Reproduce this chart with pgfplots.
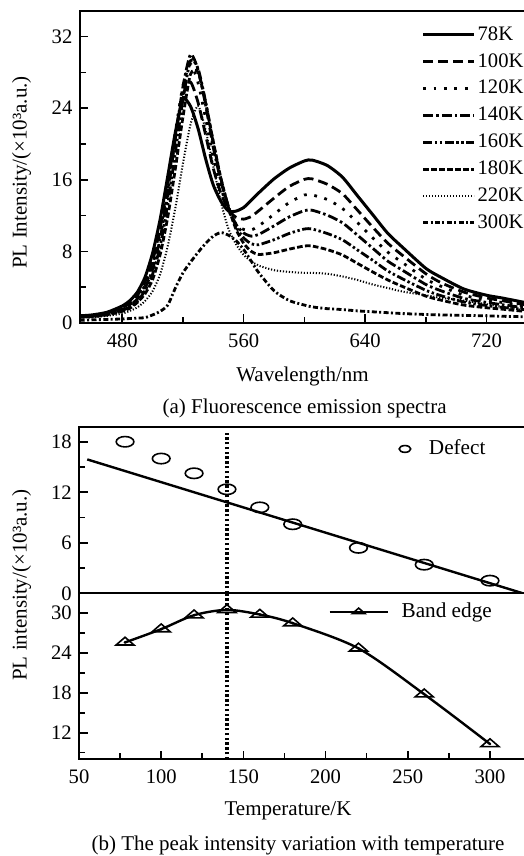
\documentclass[border=0pt]{standalone}
\usepackage{pgfplots}
\pgfplotsset{compat=1.18}
\usepackage{fontspec}
\setmainfont{Liberation Serif}

\pgfplotstableread{
lam  k78  k100  k120  k140  k160  k180  k220  k300
452  0.8  0.75  0.7   0.7   0.7   0.65  0.6   0.3
460  0.9  0.85  0.8   0.75  0.75  0.7   0.65  0.35
470  1.2  1.1   1.05  1.0   0.95  0.9   0.8   0.4
480  1.9  1.7   1.55  1.5   1.4   1.3   1.05  0.45
485  2.5  2.25  2.05  1.95  1.8   1.65  1.35  0.5
490  3.45 3.1   2.9   2.7   2.45  2.3   1.75  0.55
495  5.1  4.55  4.2   3.9   3.6   3.25  2.45  0.6
500  7.8  6.9   6.5   5.95  5.45  4.85  3.55  0.9
505  11.6 10.6  10.2  9.45  8.6   7.65  5.45  1.3
510  16.4 15.5  15.25 14.4  13.25 11.85 8.6   2.0
515  21.3 21.0  21.25 20.6  19.05 17.25 12.85 3.9
520  25.0 25.5  26.5  26.4  24.95 23.0  17.8  5.6
525  24.2 26.9  28.9  30.0  29.3  27.8  22.2  6.8
530  21.7 24.6  26.8  28.25 28.4  28.0  24.25 7.9
535  18.3 20.95 22.8  24.3  24.65 24.55 21.5  8.9
540  15.4 17.25 18.5  19.6  20.1  20.25 17.5  9.7
545  13.6 14.5  15.1  15.85 16.15 16.15 13.5  10.1
550  12.5 12.65 12.6  12.9  13.0  12.9  10.5  9.8
555  12.5 11.8  11.05 11.0  10.75 10.45 8.8   9.2
560  12.9 11.6  10.45 10.05 9.5   8.9   7.6   8.2
565  13.7 11.9  10.4  9.7   8.85  8.0   6.9   6.9
570  14.55 12.55 10.85 9.9  8.75  7.65  6.4   5.6
580  16.1 13.95 12.15 10.85 9.3   7.85  5.9   3.6
590  17.3 15.25 13.45 11.85 10.0  8.25  5.7   2.5
600  18.1 16.05 14.3  12.55 10.5  8.6   5.6   2.0
605  18.2 16.1  14.3  12.6  10.5  8.6   5.6   1.8
615  17.6 15.5  13.8  12.05 10.0  8.2   5.5   1.6
625  16.3 14.45 12.8  11.2  9.3   7.6   5.2   1.5
635  14.2 12.6  11.2  9.8   8.15  6.65  4.8   1.35
645  12.1 10.7  9.5   8.35  7.0   5.7   4.3   1.25
655  10.0 8.9   7.9   6.9   5.8   4.8   3.9   1.15
665  8.4  7.5   6.7   5.85  4.9   4.05  3.5   1.05
680  6.1  5.5   4.9   4.3   3.65  3.0   3.1   0.95
690  5.1  4.5   4.1   3.6   3.05  2.55  2.8   0.9
705  3.8  3.45  3.1   2.75  2.35  2.0   2.5   0.85
720  3.1  2.8   2.55  2.3   1.95  1.7   2.1   0.8
730  2.8  2.5   2.3   2.05  1.75  1.55  1.8   0.75
745  2.3  2.05  1.9   1.7   1.5   1.3   1.45  0.7
}\spectra

\pgfplotstableread{
T    defect
78   18.0
100  16.0
120  14.25
140  12.35
160  10.2
180  8.2
220  5.4
260  3.4
300  1.5
}\defecttab

\pgfplotstableread{
T    band
78   25.6
100  27.6
120  29.7
140  30.5
160  29.8
180  28.5
220  24.7
260  17.8
300  10.3
}\bandtab

\begin{document}
\fontsize{10.5pt}{12.6pt}\selectfont
\begin{tikzpicture}
\useasboundingbox (0pt,0pt) rectangle (262pt,428pt);
\pgfplotsset{
  every axis/.append style={
    scale only axis,
    /pgf/number format/assume math mode=true,
    tick align=inside,
    axis line style={line width=1pt},
    major tick length=4.3pt,
    minor tick length=3pt,
    tick style={black, line width=0.8pt},
    tick label style={font=\fontsize{10.3pt}{12pt}\selectfont},
    xtick pos=bottom, ytick pos=left,
  },
}
% ---------------- top panel ----------------
\begin{axis}[
  at={(39.85pt,266.5pt)}, anchor=south west,
  width=224.7pt, height=156pt,
  xmin=452, xmax=748, ymin=0, ymax=34.85,
  xtick={480,560,640,720}, minor xtick={520,600,680},
  ytick={0,8,16,24,32}, minor ytick={4,12,20,28},
  xticklabel style={yshift=-1.5pt},
  legend style={draw=none, fill=none, at={(rel axis cs:0.76,0.958)}, anchor=north west,
    inner sep=0pt, row sep=3.0pt, font=\fontsize{10.3pt}{12pt}\selectfont,
    nodes={inner sep=1pt}},
  legend cell align=left,
  legend image code/.code={\draw[#1] (0pt,0pt) -- (25.5pt,0pt);},
  every axis plot/.append style={line width=1.4pt, smooth, tension=0.4},
]
\addplot[black, line width=1.5pt] table[x=lam,y=k78] {\spectra};
\addplot[black, dash pattern=on 5pt off 2.5pt] table[x=lam,y=k100] {\spectra};
\addplot[black, dash pattern=on 1.4pt off 3.8pt] table[x=lam,y=k120] {\spectra};
\addplot[black, dash pattern=on 5pt off 1.5pt on 1.3pt off 1.5pt] table[x=lam,y=k140] {\spectra};
\addplot[black, dash pattern=on 4.5pt off 1.3pt on 1.2pt off 1.3pt on 1.2pt off 1.3pt] table[x=lam,y=k160] {\spectra};
\addplot[black, dash pattern=on 2.8pt off 1.2pt] table[x=lam,y=k180] {\spectra};
\addplot[black, line width=1.0pt, dash pattern=on 0.6pt off 0.9pt] table[x=lam,y=k220] {\spectra};
\addplot[black, dash pattern=on 2.5pt off 1.2pt on 1pt off 1.2pt] table[x=lam,y=k300] {\spectra};
\legend{78K,100K,120K,140K,160K,180K,220K,300K}
\end{axis}
% ---------------- defect panel ----------------
\begin{axis}[
  at={(39.5pt,131.35pt)}, anchor=south west,
  width=224.4pt, height=83.15pt,
  xmin=50, xmax=323, ymin=0, ymax=19.75,
  xtick=\empty,
  ytick={0,6,12,18}, minor ytick={3,9,15},
  legend style={draw=none, fill=none, at={(rel axis cs:0.712,0.868)}, anchor=west,
    inner sep=0pt, font=\fontsize{10.6pt}{12pt}\selectfont, nodes={inner sep=1pt}},
  legend image code/.code={\path[draw=none] (-3pt,0pt) -- (11pt,0pt); \draw[#1, mark size=1.7pt] plot coordinates {(0pt,0pt)};},
]
\addplot[black, only marks, mark=o, mark size=2.6pt, mark options={xscale=1.7, line width=0.8pt}] table[x=T,y=defect] {\defecttab};
\addlegendentry{Defect}
\addplot[black, line width=1.2pt, forget plot] coordinates {(55,15.9) (320,0)};
\addplot[black, line width=1.9pt, dash pattern=on 1.2pt off 1.2pt, forget plot] coordinates {(140,0) (140,19.0)};
\end{axis}
% ---------------- band edge panel ----------------
\begin{axis}[
  at={(39.5pt,48.35pt)}, anchor=south west,
  width=224.4pt, height=83pt,
  xmin=50, xmax=323, ymin=8, ymax=33,
  xtick={50,100,150,200,250,300}, minor xtick={75,125,175,225,275},
  ytick={12,18,24,30}, minor ytick={9,15,21,27},
  xticklabel style={yshift=-1.5pt},
  legend style={draw=none, fill=none, at={(rel axis cs:0.555,0.889)}, anchor=west,
    inner sep=0pt, font=\fontsize{10.6pt}{12pt}\selectfont, nodes={inner sep=1pt}},
  legend image code/.code={\path[draw=none] (0pt,0pt) -- (35pt,0pt); \draw[mark repeat=2,mark phase=2,#1, mark size=3.6pt] plot coordinates {(0pt,0pt) (14.5pt,0pt) (29pt,0pt)};},
]
\addplot[black, line width=1.2pt, smooth, mark=triangle, mark size=5.2pt, mark options={yscale=0.5, line width=0.8pt, solid, fill=white}] table[x=T,y=band] {\bandtab};
\addlegendentry{Band edge}
\addplot[black, only marks, mark=*, mark size=0.45pt, forget plot] table[x=T,y=band] {\bandtab};
\addplot[black, line width=1.9pt, dash pattern=on 1.2pt off 1.2pt, forget plot] coordinates {(140,8) (140,33)};
\end{axis}
% ---------------- labels ----------------
\node[rotate=90] at (10.85pt,341.75pt) {PL Intensity/(×10³a.u.)};
\node at (151.25pt,240pt) {Wavelength/nm};
\node at (152.3pt,224pt) {(a) Fluorescence emission spectra};
\node[rotate=90] at (10.85pt,135.5pt) {PL intensity/(×10³a.u.)};
\node at (144pt,22.5pt) {Temperature/K};
\node at (149pt,5.5pt) {(b) The peak intensity variation with temperature};
\end{tikzpicture}
\end{document}
